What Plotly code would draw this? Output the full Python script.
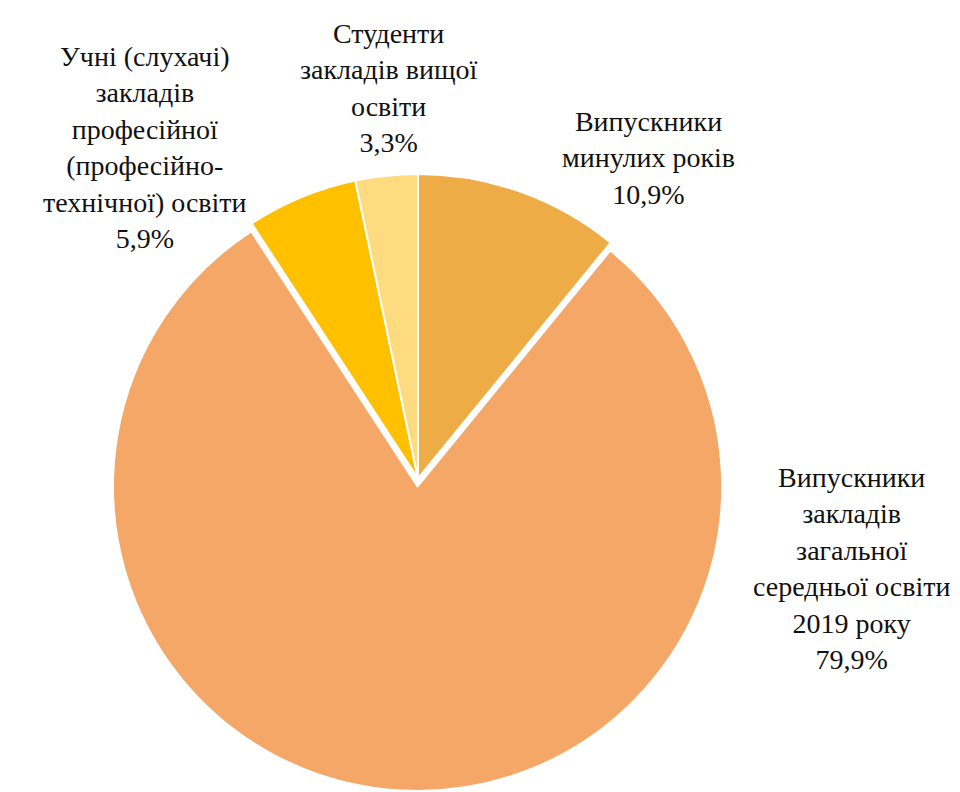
import plotly.graph_objects as go

labels = [
    "Випускники<br>минулих років",
    "Випускники<br>закладів<br>загальної<br>середньої освіти<br>2019 року",
    "Учні (слухачі)<br>закладів<br>професійної<br>(професійно-<br>технічної) освіти",
    "Студенти<br>закладів вищої<br>освіти",
]
values = [10.9, 79.9, 5.9, 3.3]
value_text = ["10,9%", "79,9%", "5,9%", "3,3%"]
colors = ["#EDAC45", "#F4A766", "#FFC000", "#FFDB80"]
pulls = [0, 0.026, 0, 0]

# label centre positions in pixels (x, y from top)
label_pos = [(640, 150), (843, 560), (137, 139), (381, 80)]

W, H = 960, 792
FONT = "Liberation Serif, Times New Roman, serif"

fig = go.Figure(go.Pie(
    labels=labels,
    values=values,
    sort=False,
    direction="clockwise",
    rotation=0,
    pull=pulls,
    marker=dict(colors=colors, line=dict(color="white", width=2)),
    textinfo="none",
    hoverinfo="label+percent",
    domain=dict(x=[97 / W, 723 / W], y=[9 / H, 634 / H]),
    showlegend=False,
))

for lab, vt, (px, py) in zip(labels, value_text, label_pos):
    fig.add_annotation(
        x=px / W, y=1 - py / H, xref="paper", yref="paper",
        text=f"{lab}<br>{vt}", showarrow=False,
        xanchor="center", yanchor="middle", align="center",
        font=dict(family=FONT, size=28, color="#111111"),
    )

fig.update_layout(
    width=W, height=H,
    font=dict(family=FONT),
    margin=dict(l=0, r=0, t=0, b=0),
    paper_bgcolor="white", plot_bgcolor="white",
)

fig.write_html("out.html")
